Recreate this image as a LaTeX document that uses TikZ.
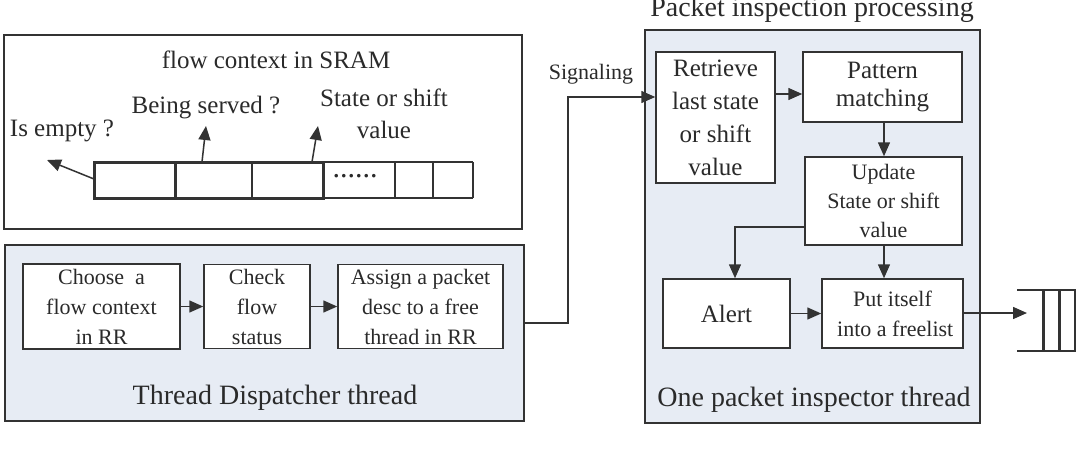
\documentclass[tikz,border=0pt]{standalone}
\usepackage{fontspec}
\setmainfont{Liberation Serif}
\usetikzlibrary{arrows.meta}
\definecolor{ink}{HTML}{2A2A2A}
\definecolor{edge}{HTML}{333333}
\definecolor{panel}{HTML}{E7ECF4}
\tikzset{
  container/.style={draw=edge, line width=1.5pt, inner sep=0pt},
  stepbox/.style={draw=edge, line width=1.5pt, fill=white, inner sep=0pt, align=center, text=ink},
  big/.style={font=\fontsize{28}{32}\selectfont, text=ink, inner sep=0pt},
  mid/.style={font=\fontsize{25}{32}\selectfont, text=ink, inner sep=0pt, align=center},
  small/.style={font=\fontsize{22}{30}\selectfont},
  arr/.style={draw=edge, line width=1.5pt, -{Triangle[length=14pt,width=12pt]}},
  plain/.style={draw=edge, line width=1.5pt},
}
\begin{document}
\begin{tikzpicture}[x=1pt,y=-1pt]
\useasboundingbox (0,0) rectangle (1077,448);
\fill[white] (0,0) rectangle (1077,448);

% containers
\node[container, fill=white, minimum width=518pt, minimum height=194pt] (sram) at (263,132) {};
\node[container, fill=panel, minimum width=519pt, minimum height=176pt] (disp) at (264.5,333) {};
\node[container, fill=panel, minimum width=335pt, minimum height=393pt] (insp) at (812.5,226.5) {};

% SRAM content
\node[mid] (sramtitle) at (276,60) {flow context in SRAM};
\node[mid] (served) at (206,108) {Being served ?};
\node[mid] (empty) at (62,131) {Is empty ?};
\node[mid, font=\fontsize{25}{32}\selectfont] (statev) at (384,114) {State or shift\\value};

\coordinate (c0) at (94,162);
\coordinate (c3) at (323,198);
\draw[plain] (323,162) -- (473,162) (323,198) -- (473,198);
\draw[plain] (395,162) -- (395,198) (433,162) -- (433,198) (473,162) -- (473,198);
\draw[plain] (252,162) -- (252,198);
\draw[draw=edge, line width=3pt] (175,162) -- (175,198);
\draw[draw=edge, line width=3pt] (c0) rectangle (c3);
\node[text=ink, font=\fontsize{30}{30}\selectfont, inner sep=0pt] (dots) at (355,176) {......};

\coordinate (emptytip) at (47,160);
\coordinate (servedtip) at (206,126);
\coordinate (statetip) at (318,126);
\draw[arr] (94,179) -- (emptytip);
\draw[arr] (202,162) -- (servedtip);
\draw[arr] (312,162) -- (statetip);

% dispatcher
\node[stepbox, small, minimum width=157pt, minimum height=85pt] (choose) at (101.5,306.5) {Choose\ \ a\\flow context\\in RR};
\node[stepbox, small, minimum width=106pt, minimum height=84pt] (check) at (257,306.5) {Check\\flow\\status};
\node[stepbox, small, minimum width=165pt, minimum height=84pt] (assign) at (420.5,306.5) {Assign a packet\\desc to a free\\thread in RR};
\node[big] (displabel) at (275,398) {Thread Dispatcher thread};
\draw[arr] (choose.east) -- (check.west);
\draw[arr] (check.east) -- (assign.west);

% inspector
\node[big, anchor=base] (insptitle) at (812,16) {Packet inspection processing};
\node[stepbox, font=\fontsize{25}{33}\selectfont, minimum width=119pt, minimum height=131pt] (retrieve) at (715.5,117.5) {Retrieve\\last state\\or shift\\value};
\node[stepbox, font=\fontsize{25}{28}\selectfont, minimum width=159pt, minimum height=70pt] (pattern) at (882.5,87) {Pattern\\matching};
\node[stepbox, font=\fontsize{22}{29}\selectfont, minimum width=157pt, minimum height=88pt] (update) at (883.5,201) {Update\\State or shift\\value};
\node[stepbox, font=\fontsize{25}{30}\selectfont, minimum width=127pt, minimum height=69pt] (alert) at (726.5,313.5) {Alert};
\node[stepbox, small, minimum width=141pt, minimum height=69pt] (put) at (892.5,313.5) {Put itself\\\ into a freelist};
\node[big] (insplabel) at (814,400) {One packet inspector thread};

\draw[arr] (retrieve.east |- 0,94) -- (pattern.west |- 0,94);
\draw[arr] (pattern.south -| 884,0) -- (update.north -| 884,0);
\draw[arr] (update.south -| 884,0) -- (put.north -| 884,0);
\draw[arr] (update.west |- 0,227) -| (alert.north -| 735,0);
\draw[arr] (alert.east) -- (put.west);

% signaling
\node[text=ink, font=\fontsize{22}{26}\selectfont, inner sep=0pt] (siglabel) at (591,74) {Signaling};
\draw[arr] (disp.east |- 0,323) -- (568,323) -- (568,97) -- (retrieve.west |- 0,97);

% queue
\coordinate (qin) at (1027,313);
\draw[arr] (put.east |- 0,313) -- (qin);
\draw[plain] (1017,290) -- (1075,290) -- (1075,351) -- (1017,351);
\draw[draw=edge, line width=3pt] (1043,290) -- (1043,351) (1059,290) -- (1059,351);
\end{tikzpicture}
\end{document}
